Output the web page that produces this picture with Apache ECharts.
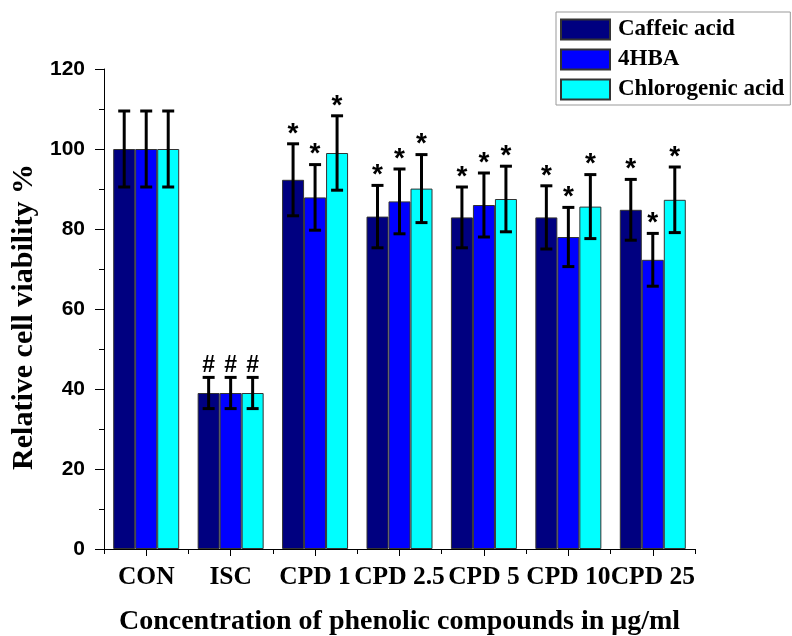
<!DOCTYPE html>
<html>
<head>
<meta charset="utf-8">
<title>Relative cell viability</title>
<script src="https://cdn.jsdelivr.net/npm/echarts@6/dist/echarts.min.js"></script>
<style>
  html, body { margin: 0; padding: 0; background: #fff; }
  #chart { width: 792px; height: 636px; }
</style>
</head>
<body>
<div id="chart"></div>
<script>
// Treatment groups along the x axis
const categories = ['CON', 'ISC', 'CPD 1', 'CPD 2.5', 'CPD 5', 'CPD 10', 'CPD 25'];

// Mean relative viability (%) per compound
const caffeicAcid = [100, 39, 92.3, 83.1, 82.9, 82.9, 84.8];
const hba4 = [100, 39, 87.9, 86.9, 86.0, 78.0, 72.3];
const chlorogenicAcid = [100, 39, 99.0, 90.1, 87.5, 85.6, 87.3];

// Standard deviations
const caffeicAcidErr = [9.5, 3.9, 9.0, 7.8, 7.6, 7.9, 7.6];
const hba4Err = [9.5, 3.9, 8.2, 8.1, 8.0, 7.4, 6.6];
const chlorogenicAcidErr = [9.5, 3.9, 9.3, 8.5, 8.2, 8.0, 8.2];

// Significance marks per group
const marks = ['', '#', '*', '*', '*', '*', '*'];

// Y axis ticks
const yMin = 0, yMax = 120, yStep = 20;

const serif = '"Liberation Serif", "Times New Roman", serif';
const sans = '"Liberation Sans", Arial, sans-serif';
const BAR_W = 22;

const seriesDefs = [
  { name: 'Caffeic acid', color: '#000080', values: caffeicAcid, errs: caffeicAcidErr },
  { name: '4HBA', color: '#0000ff', values: hba4, errs: hba4Err },
  { name: 'Chlorogenic acid', color: '#00ffff', values: chlorogenicAcid, errs: chlorogenicAcidErr }
];

const barSeries = seriesDefs.map(s => ({
  name: s.name,
  type: 'bar',
  barWidth: BAR_W,
  barGap: '0%',
  itemStyle: { color: s.color, borderColor: '#333', borderWidth: 1 },
  emphasis: { disabled: true },
  data: s.values
}));

// Error bars with the significance mark above each bar
const errorSeries = seriesDefs.map((s, k) => ({
  name: s.name + ' SD',
  type: 'custom',
  z: 10,
  silent: true,
  renderItem: function (params, api) {
    const i = api.value(0);
    const v = api.value(1);
    const e = api.value(2);
    const off = (k - 1) * BAR_W;
    const top = api.coord([i, v + e]);
    const bot = api.coord([i, v - e]);
    const x = top[0] + off;
    const cap = 6;
    const lineStyle = { stroke: '#000', lineWidth: 3 };
    const children = [
      { type: 'line', shape: { x1: x, y1: top[1], x2: x, y2: bot[1] }, style: lineStyle },
      { type: 'line', shape: { x1: x - cap, y1: top[1], x2: x + cap, y2: top[1] }, style: lineStyle },
      { type: 'line', shape: { x1: x - cap, y1: bot[1], x2: x + cap, y2: bot[1] }, style: lineStyle }
    ];
    const m = marks[i];
    if (m) {
      const star = m === '*';
      children.push({
        type: 'text',
        style: {
          text: m,
          x: x,
          y: top[1] + (star ? 4 : 0),
          align: 'center',
          verticalAlign: 'bottom',
          fontFamily: sans,
          fontWeight: 'bold',
          fontSize: star ? 28 : 23,
          fill: '#000'
        }
      });
    }
    return { type: 'group', children: children };
  },
  data: categories.map((c, i) => [i, s.values[i], s.errs[i]])
}));

const chart = echarts.init(document.getElementById('chart'), null, { renderer: 'canvas' });
chart.setOption({
  animation: false,
  backgroundColor: '#fff',
  grid: { left: 104, right: 97, top: 69, bottom: 87, containLabel: false, outerBoundsMode: 'none' },
  legend: {
    data: seriesDefs.map(s => s.name),
    orient: 'vertical',
    left: 556,
    top: 12,
    icon: 'rect',
    itemWidth: 49,
    itemHeight: 20,
    itemGap: 7,
    padding: [6, 6, 4, 4],
    borderColor: '#999',
    borderWidth: 1,
    backgroundColor: '#fff',
    selectedMode: false,
    textStyle: { fontFamily: serif, fontWeight: 'bold', fontSize: 23, color: '#000', lineHeight: 20, padding: [0, 0, 0, 3] }
  },
  xAxis: [
    {
      type: 'category',
      data: categories,
      position: 'bottom',
      axisLine: { lineStyle: { color: '#000', width: 1 } },
      axisTick: { show: true, length: 5, lineStyle: { color: '#000' } },
      axisLabel: { interval: 0, margin: 15, color: '#000', fontFamily: serif, fontWeight: 'bold', fontSize: 25.5 },
      name: 'Concentration of phenolic compounds in μg/ml',
      nameLocation: 'middle',
      nameGap: 59,
      nameTextStyle: { color: '#000', fontFamily: serif, fontWeight: 'bold', fontSize: 28 }
    },
    {
      type: 'category',
      data: categories,
      position: 'bottom',
      axisLine: { show: false },
      axisTick: { show: true, alignWithLabel: true, length: 7, lineStyle: { color: '#000' } },
      axisLabel: { show: false }
    }
  ],
  yAxis: {
    type: 'value',
    min: yMin,
    max: yMax,
    interval: yStep,
    axisLine: { show: true, lineStyle: { color: '#000', width: 1 } },
    axisTick: { show: true, length: 9, lineStyle: { color: '#000' } },
    minorTick: { show: true, splitNumber: 2, length: 5, lineStyle: { color: '#000' } },
    splitLine: { show: false },
    axisLabel: { margin: 19, color: '#000', fontFamily: sans, fontWeight: 'bold', fontSize: 21 },
    name: 'Relative cell viability %',
    nameLocation: 'middle',
    nameGap: 63,
    nameTextStyle: { color: '#000', fontFamily: serif, fontWeight: 'bold', fontSize: 30, padding: [0, 16, 0, 0] }
  },
  series: barSeries.concat(errorSeries)
});
</script>
</body>
</html>
